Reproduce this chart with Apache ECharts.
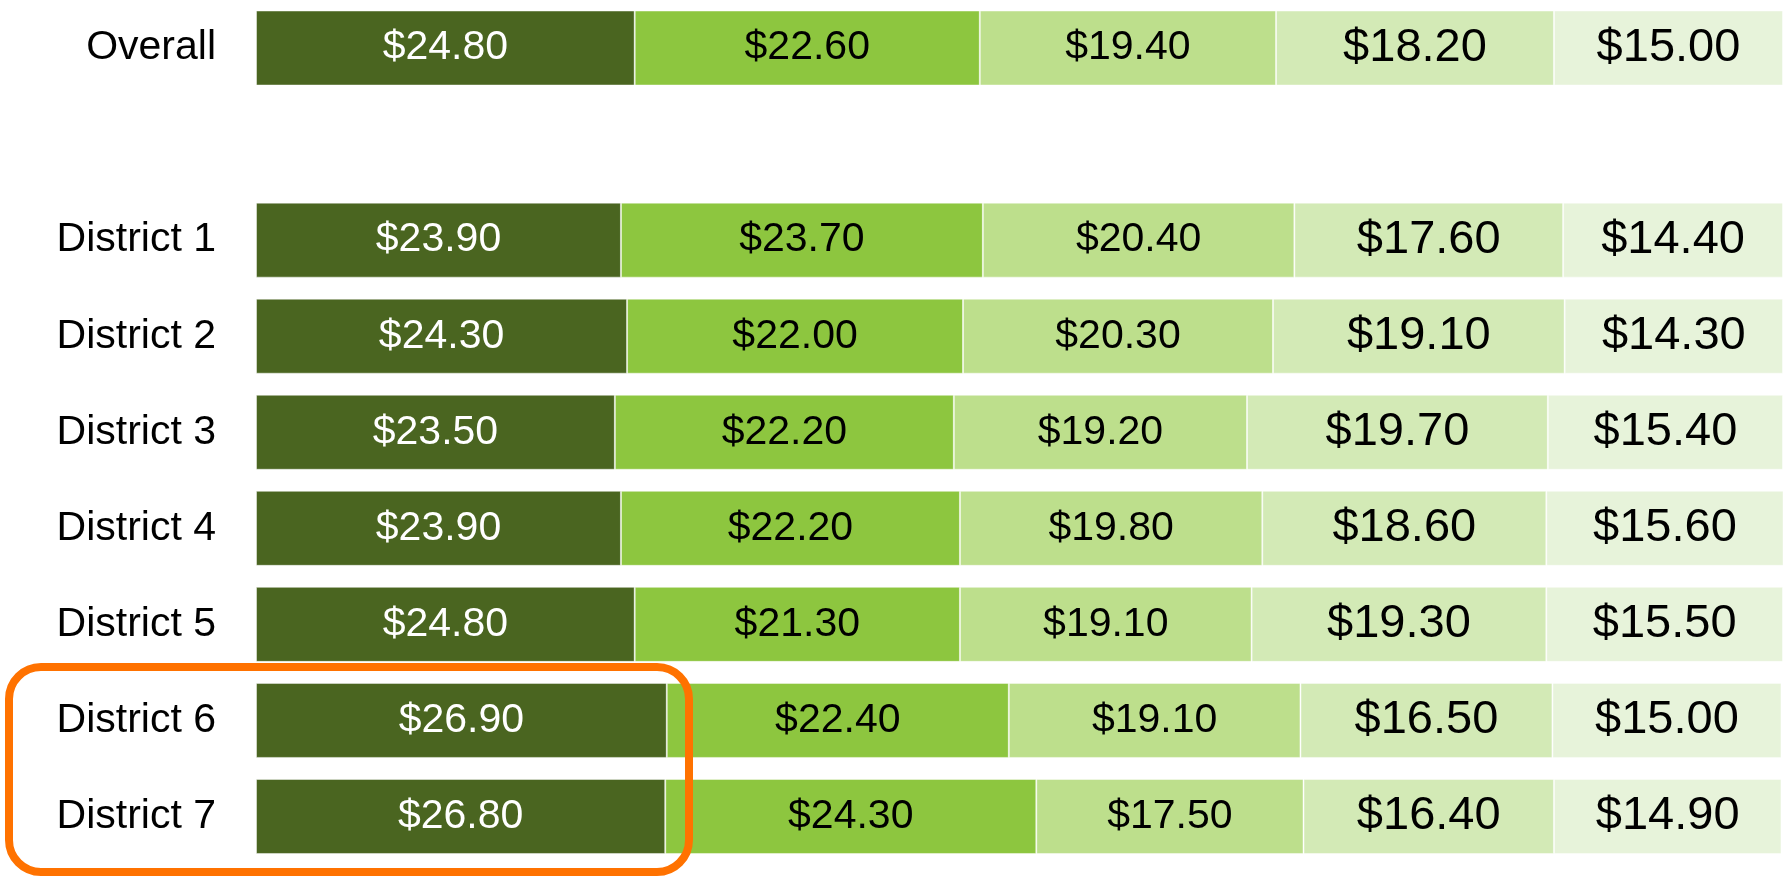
<!DOCTYPE html>
<html>
<head>
<meta charset="utf-8">
<script src="https://cdn.jsdelivr.net/npm/echarts@6/dist/echarts.min.js"></script>
<style>
  html, body { margin: 0; padding: 0; background: #fff; }
  #main { width: 1785px; height: 876px; }
</style>
</head>
<body>
<div id="main"></div>
<script>
// rows, top to bottom ('' is the empty gap row under Overall)
const categories = ['Overall', '', 'District 1', 'District 2', 'District 3', 'District 4', 'District 5', 'District 6', 'District 7']

// one array per segment, left to right
const seg1 = [24.8, null, 23.9, 24.3, 23.5, 23.9, 24.8, 26.9, 26.8]
const seg2 = [22.6, null, 23.7, 22.0, 22.2, 22.2, 21.3, 22.4, 24.3]
const seg3 = [19.4, null, 20.4, 20.3, 19.2, 19.8, 19.1, 19.1, 17.5]
const seg4 = [18.2, null, 17.6, 19.1, 19.7, 18.6, 19.3, 16.5, 16.4]
const seg5 = [15.0, null, 14.4, 14.3, 15.4, 15.6, 15.5, 15.0, 14.9]

const segColors = ['#4a6520', '#8dc63f', '#bddf8c', '#d3eab6', '#e7f3da']
const labelColors = ['#fff', '#000', '#000', '#000', '#000']
const labelSizes = [41, 41, 41, 47, 47]

let myChart = echarts.init(document.getElementById('main'))

const segs = [seg1, seg2, seg3, seg4, seg5]
const series = segs.map((data, i) => ({
  type: 'bar',
  stack: 'total',
  barWidth: 75,
  data: data,
  itemStyle: { color: segColors[i], borderColor: 'rgba(255,255,255,0.45)', borderWidth: 1 },
  label: {
    show: true,
    position: 'inside',
    color: labelColors[i],
    fontSize: labelSizes[i],
    formatter: p => '$' + p.value.toFixed(2)
  },
  emphasis: { disabled: true }
}))

myChart.setOption({
  animation: false,
  textStyle: { fontFamily: 'Liberation Sans, Arial, sans-serif' },
  grid: { left: 256, right: 2, top: -5, height: 869.5, containLabel: false },
  xAxis: { type: 'value', min: 0, max: 100, show: false },
  yAxis: {
    type: 'category',
    inverse: true,
    data: categories,
    axisLine: { show: false },
    axisTick: { show: false },
    axisLabel: { color: '#000', fontSize: 41, margin: 40 }
  },
  series: series,
  // orange highlight round District 6 and 7
  graphic: [{
    type: 'rect',
    shape: { x: 9, y: 667, width: 680, height: 205, r: 32 },
    style: { fill: 'none', stroke: '#ff7200', lineWidth: 8 },
    z: 100
  }]
})
</script>
</body>
</html>
